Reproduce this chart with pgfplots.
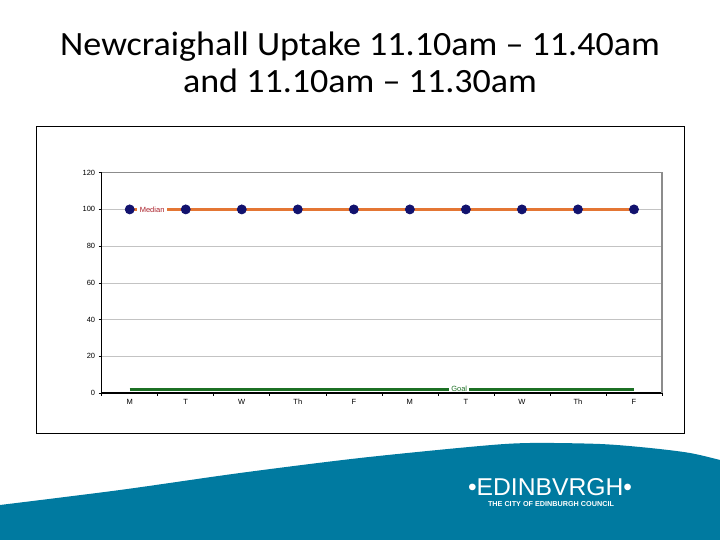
\documentclass[border=0pt]{standalone}
\usepackage{pgfplots}
\pgfplotsset{compat=1.18}
\usepackage{fontspec}
\setmainfont{Carlito}
\newfontfamily\chartfont{Liberation Sans}
\definecolor{markblue}{RGB}{18,18,110}
\definecolor{medorange}{RGB}{228,118,52}
\definecolor{medred}{RGB}{170,30,40}
\definecolor{goalgreen}{RGB}{28,112,36}
\definecolor{wave}{RGB}{0,122,160}
\definecolor{gridgray}{RGB}{195,195,195}
\definecolor{framegray}{RGB}{140,140,140}

\begin{document}
\begin{tikzpicture}[x=1pt,y=1pt]
\path[use as bounding box] (0,0) rectangle (720,540);
\fill[white] (0,0) rectangle (720,540);
% title
\node[anchor=base, font=\fontsize{34}{40}\selectfont] at (360,484.5) {\scalebox{1.06}[1]{Newcraighall Uptake 11.10am – 11.40am}};
\node[anchor=base, font=\fontsize{34}{40}\selectfont] at (360,447) {\scalebox{1.06}[1]{and 11.10am – 11.30am}};
% chart frame
\draw[black, line width=1pt] (36.5,106) rectangle (684.5,413.5);
\begin{axis}[
    at={(101.7pt,147pt)}, anchor=south west,
    scale only axis, width=560.3pt, height=220.3pt,
    xmin=-0.5, xmax=9.5, ymin=0, ymax=120,
    axis lines=left,
    axis line style={-, line width=1.2pt, black},
    tick align=outside,
    xtick={0,...,9},
    xticklabels={M,T,W,Th,F,M,T,W,Th,F},
    minor xtick={-0.5,0.5,...,9.5},
    major x tick style={draw=none},
    minor x tick style={black, line width=0.6pt},
    ytick={0,20,...,120},
    y tick style={black, line width=0.6pt},
    major tick length=3pt, minor tick length=3pt,
    ymajorgrids, grid style={gridgray, line width=0.6pt},
    ticklabel style={font=\chartfont\fontsize{7.5}{8}\selectfont},
    /pgf/number format/assume math mode=true,
    clip=false,
]
\draw[framegray, line width=1.2pt] (rel axis cs:0,1) -- (rel axis cs:1,1) -- (rel axis cs:1,0);
% uptake data
\addplot[markblue, line width=0.8pt, mark=*, mark size=4.5pt, mark options={solid, fill=markblue}]
    coordinates {(0,100) (1,100) (2,100) (3,100) (4,100) (5,100) (6,100) (7,100) (8,100) (9,100)};
% median
\addplot[medorange, line width=2.8pt] coordinates {(0,100) (9,100)};
% goal
\addplot[goalgreen, line width=3.2pt] coordinates {(0,2) (9,2)};
\node[fill=white, inner xsep=3pt, inner ysep=1pt, text=medred, font=\chartfont\fontsize{7.5}{8}\selectfont] at (axis cs:0.4,100) {Median};
\node[fill=white, inner xsep=2pt, inner ysep=1pt, text=goalgreen, font=\chartfont\fontsize{7.5}{8}\selectfont] at (axis cs:5.88,2.5) {Goal};
\end{axis}
% wave
\fill[wave] plot[smooth, tension=0.5] coordinates {(0,35) (120,50) (240,67) (360,82) (480,94) (530,97) (600,96) (650,92) (690,87) (720,80)} -- (720,0) -- (0,0) -- cycle;
% logo
\node[text=white, inner sep=0pt] at (550,53) {\resizebox{164pt}{17pt}{\chartfont •EDINBVRGH•}};
\node[text=white, inner sep=0pt] at (551,35.5) {\resizebox{126pt}{5pt}{\chartfont\bfseries THE CITY OF EDINBURGH COUNCIL}};
\end{tikzpicture}
\end{document}
